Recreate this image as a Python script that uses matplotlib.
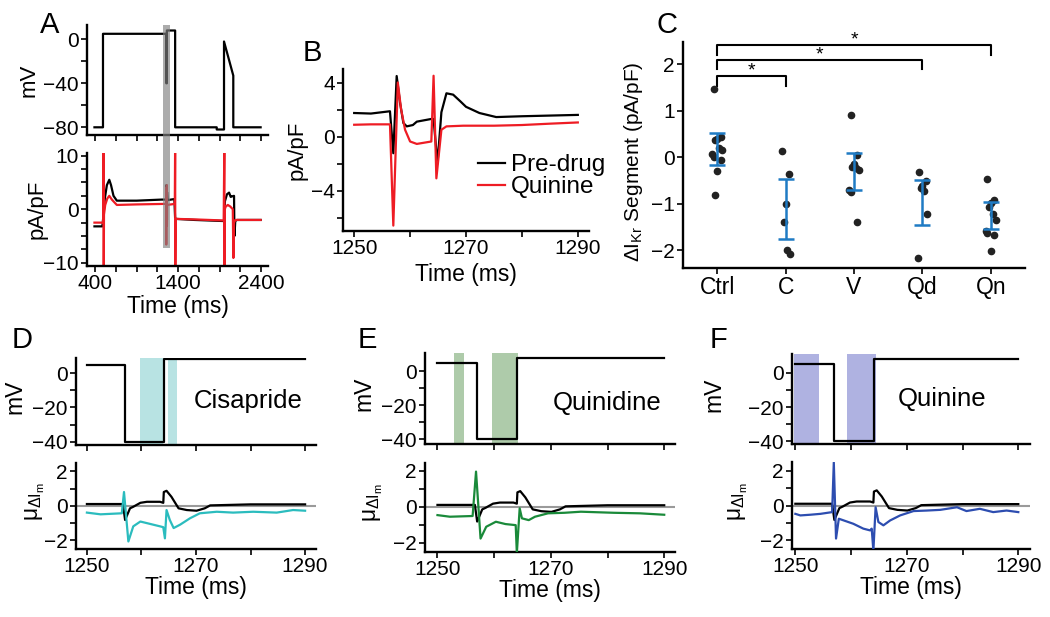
import matplotlib
matplotlib.use("Agg")
import matplotlib.pyplot as plt
import matplotlib.transforms as mtransforms
from matplotlib.patches import Rectangle

plt.rcParams['font.family'] = ['Liberation Sans', 'DejaVu Sans']
plt.rcParams['font.size'] = 15
plt.rcParams['mathtext.fontset'] = 'custom'
plt.rcParams['mathtext.rm'] = 'Liberation Sans'
plt.rcParams['mathtext.it'] = 'Liberation Sans'

# ---- panel A: full protocol ----
a_t_v = [390, 493, 493, 1257, 1257, 1264, 1264, 1364, 1364, 1866, 1866, 1954, 1954, 2066, 2066, 2396]
a_mv = [-80, -80, 5, 5, -40, -40, 8, 8, -80, -80, -82, -82, -2, -33, -80, -80]

a_t_pre = [390, 485, 500, 515, 540, 569, 590, 620, 660, 900, 1200, 1256, 1257, 1257.6, 1259, 1264,
           1264.9, 1266.5, 1272, 1355, 1364, 1370, 1600, 1940, 1955, 1965, 1990, 2015, 2035, 2050,
           2075, 2080, 2090, 2110, 2396]
a_pre = [-3.2, -3.2, -1, 2, 4.5, 5.5, 4.5, 2.5, 1.6, 1.6, 1.8, 1.8, -1.2, 4.5, 0.8, 1.3,
         -2.0, 3.2, 1.7, 1.9, -1.8, -1.8, -2.0, -2.2, -2.2, 1.5, 2.8, 3.1, 2.3, 2.4,
         2.5, -5, -2.2, -2.0, -2.0]

a_t_qn = [390, 495, 500, 502, 505, 520, 545, 569, 600, 660, 900, 1256, 1257, 1257.8, 1259, 1264,
          1264.2, 1264.7, 1266, 1360, 1364, 1366, 1370, 1600, 1950, 1958, 1960, 1963, 1975, 2000,
          2030, 2060, 2067, 2075, 2090, 2396]
a_qn = [-2.5, -2.5, 12, -12, -1, 0.8, 2.0, 2.5, 1.8, 0.8, 0.9, 1.0, -6.6, 4.0, -0.4, -0.4,
        4.5, -3.1, 0.8, 1.0, 12, -12, -1.8, -1.9, -2.1, 12, -12, 0, 0.5, 0.8,
        0.5, 0, -9.1, -2.5, -2.0, -2.0]

# ---- panel B: zoom 1250-1290 ms ----
b_t_pre = [1250, 1253, 1256.4, 1257.0, 1257.6, 1258.2, 1258.8, 1259.4, 1260.5, 1261.2, 1263.8, 1264.2,
           1264.9, 1265.6, 1266.5, 1267.7, 1269, 1270, 1272.4, 1275.4, 1280, 1285, 1290]
b_pre = [1.74, 1.7, 1.87, -1.24, 4.48, 2.5, 1.0, 0.75, 0.85, 1.1, 1.3, 1.3,
         -2.0, 1.8, 3.2, 3.1, 2.6, 2.2, 1.74, 1.44, 1.5, 1.55, 1.6]
b_t_qn = [1250, 1253, 1256.4, 1257.0, 1257.8, 1258.4, 1259.1, 1260, 1261.2, 1263.8, 1264.2, 1264.7,
          1265.6, 1266.5, 1269.5, 1275, 1280, 1285, 1290]
b_qn = [0.87, 0.9, 0.9, -6.6, 4.0, 2.0, 0.5, -0.37, -0.55, -0.37, 4.5, -3.1,
        0.5, 0.75, 0.8, 0.8, 0.85, 0.95, 1.04]

# ---- panel C: segment dIKr ----
c_groups = ['Ctrl', 'C', 'V', 'Qd', 'Qn']
ctrl_pts = [1.46, 0.43, 0.40, 0.38, 0.21, 0.16, 0.08, 0.01, -0.06, -0.29, -0.82]
cis_pts = [0.13, -0.35, -1.0, -1.39, -2.0, -2.07]
ver_pts = [0.92, 0.06, -0.14, -0.21, -0.24, -0.28, -0.71, -0.75, -1.39]
qd_pts = [-0.32, -0.5, -0.62, -0.67, -0.72, -1.21, -2.16]
qn_pts = [-0.46, -0.92, -0.98, -1.07, -1.21, -1.35, -1.58, -1.63, -1.66, -2.02]
err_hi = [0.53, -0.47, 0.09, -0.49, -0.97]
err_lo = [-0.165, -1.76, -0.70, -1.45, -1.55]
sig_pairs = [(0, 1), (0, 3), (0, 4)]
sig_y = [1.74, 2.09, 2.41]

# ---- panels D-F ----
step_t = [1250, 1256.9, 1256.9, 1264.1, 1264.1, 1290]
step_mv = [5, 5, -40, -40, 8, 8]

mu_t_ctrl = [1250, 1256.6, 1257.0, 1257.9, 1258.5, 1259.8, 1261, 1263.4, 1264.0, 1264.1, 1264.6, 1265.5,
             1266.8, 1268.3, 1270.1, 1271.6, 1272.6, 1280, 1290]
mu_ctrl = [0.1, 0.1, -0.83, -0.15, -0.06, 0.17, 0.23, 0.23, 0.17, 0.8, 0.87, 0.52,
           -0.15, -0.25, -0.29, -0.15, 0.02, 0.08, 0.08]

mu_t_cis = [1250, 1252.5, 1256.4, 1256.8, 1257.6, 1258.5, 1259.8, 1261.6, 1263.4, 1264.0, 1264.3, 1264.6,
            1265.2, 1265.9, 1267.1, 1268.9, 1270.7, 1273.8, 1276.8, 1280.5, 1284.8, 1287.8, 1290]
mu_cis = [-0.4, -0.5, -0.44, 0.8, -2.08, -1.2, -0.92, -1.06, -1.2, -1.25, -1.9, -0.25,
          -0.83, -1.3, -1.1, -0.73, -0.44, -0.35, -0.4, -0.35, -0.4, -0.25, -0.29]

mu_t_qd = [1250, 1252.2, 1256.2, 1256.8, 1257.6, 1258.6, 1260.3, 1262, 1263.8, 1264.0, 1264.5, 1264.9,
           1266.1, 1267.2, 1269.5, 1272.4, 1275.3, 1281.1, 1285.7, 1290]
mu_qd = [-0.47, -0.56, -0.52, 1.96, -1.78, -1.12, -0.84, -0.97, -1.03, -2.6, -0.09, -0.65,
         -0.75, -0.56, -0.37, -0.34, -0.28, -0.34, -0.37, -0.45]

mu_t_qn = [1250, 1250.9, 1252.7, 1254.5, 1256.6, 1256.9, 1257.3, 1257.8, 1258.7, 1260.4, 1262.2, 1263.4,
           1263.7, 1264.0, 1264.4, 1264.9, 1265.8, 1267, 1268.8, 1271.2, 1273.6, 1276, 1279, 1280.7,
           1283.1, 1285.5, 1287.9, 1290]
mu_qn = [-0.48, -0.57, -0.53, -0.48, -0.38, 2.48, -1.9, -0.76, -0.86, -1.05, -1.33, -1.43,
         -1.33, -2.6, -0.1, -0.95, -1.14, -0.86, -0.57, -0.32, -0.29, -0.25, -0.1, -0.32,
         -0.19, -0.38, -0.29, -0.38]

cis_win = [(1259.8, 1264.0), (1264.9, 1266.6)]
qd_win = [(1252.9, 1254.6), (1259.6, 1264.2)]
qn_win = [(1249.7, 1254.3), (1259.2, 1264.4)]

W, H = 1050, 617
RED = '#ee1c24'
BLUE_ERR = '#1f7bc4'
XLAB = 16.5


def box(l, t, r, b):
    return [l / W, 1 - b / H, (r - l) / W, (b - t) / H]


def style(ax):
    for s in ['top', 'right']:
        ax.spines[s].set_visible(False)
    for s in ['left', 'bottom']:
        ax.spines[s].set_linewidth(1.7)
    ax.tick_params(which='both', direction='out', width=1.2, length=4, labelsize=15, pad=2)


fig = plt.figure(figsize=(10.5, 6.17), dpi=100)

# A top
axA1 = fig.add_axes(box(87, 25, 268, 135))
axA1.patch.set_visible(False)
style(axA1)
axA1.plot(a_t_v, a_mv, color='black', lw=1.6)
axA1.set_xlim(300, 2485)
axA1.set_ylim(-87, 13)
axA1.set_yticks([0, -40, -80])
axA1.set_yticks([-20, -60], minor=True)
axA1.set_xticks([400, 1400, 2400])
axA1.set_xticks([650, 900, 1150, 1650, 1900, 2150], minor=True)
axA1.set_xticklabels([])
axA1.set_ylabel('mV', fontsize=16)
axA1.yaxis.set_label_coords(-0.26, 0.5)

# A bottom
axA2 = fig.add_axes(box(87, 153, 268, 266))
style(axA2)
axA2.plot(a_t_pre, a_pre, color='black', lw=1.6)
axA2.plot(a_t_qn, a_qn, color=RED, lw=1.6)
axA2.set_xlim(300, 2485)
axA2.set_ylim(-10.6, 10.5)
axA2.set_yticks([10, 0, -10])
axA2.set_yticks([7.5, 5, 2.5, -2.5, -5, -7.5], minor=True)
axA2.set_xticks([400, 1400, 2400])
axA2.set_xticks([650, 900, 1150, 1650, 1900, 2150], minor=True)
axA2.set_xlabel('Time (ms)', fontsize=XLAB, labelpad=1)
axA2.set_ylabel('pA/pF', fontsize=16)
axA2.yaxis.set_label_coords(-0.22, 0.5)
trans = mtransforms.blended_transform_factory(axA2.transData, fig.transFigure)
band = Rectangle((1215, 1 - 248 / H), 90, (248 - 25) / H, transform=trans,
                 color='#808080', alpha=0.65, lw=0, clip_on=False, zorder=5)
axA2.add_artist(band)

# B
axB = fig.add_axes(box(343, 69, 589, 231))
style(axB)
axB.plot(b_t_pre, b_pre, color='black', lw=1.6, label='Pre-drug')
axB.plot(b_t_qn, b_qn, color=RED, lw=1.6, label='Quinine')
axB.set_xlim(1248, 1292)
axB.set_ylim(-7.0, 5.0)
axB.set_yticks([4, 0, -4])
axB.set_yticks([2, -2, -6], minor=True)
axB.set_xticks([1250, 1270, 1290])
axB.set_xticks([1260, 1280], minor=True)
axB.set_xlabel('Time (ms)', fontsize=XLAB, labelpad=3)
axB.set_ylabel('pA/pF', fontsize=16)
axB.yaxis.set_label_coords(-0.145, 0.5)
axB.legend(loc='upper left', bbox_to_anchor=(0.5, 0.55), frameon=False, fontsize=17.5,
           handlelength=1.1, handletextpad=0.25, labelspacing=0.0, borderpad=0)

# C
axC = fig.add_axes(box(683, 42, 1025, 268))
style(axC)
groups_pts = [ctrl_pts, cis_pts, ver_pts, qd_pts, qn_pts]
jit = [-0.05, 0.05, 0.0, -0.025, 0.025, 0.07, -0.07]
for i, pts in enumerate(groups_pts):
    xs = [i + jit[k % len(jit)] for k in range(len(pts))]
    axC.plot(xs, pts, 'o', color='#222222', ms=4.5, zorder=3)
    mid = (err_hi[i] + err_lo[i]) / 2
    axC.errorbar(i, mid, yerr=[[mid - err_lo[i]], [err_hi[i] - mid]], color=BLUE_ERR,
                 lw=1.8, capsize=6, capthick=1.8, fmt='none', zorder=4)
for (i, j), y in zip(sig_pairs, sig_y):
    axC.plot([i, i, j, j], [y - 0.2, y, y, y - 0.2], color='black', lw=1.5)
    axC.text((i + j) / 2, y + 0.11, '*', ha='center', va='center', fontsize=14)
axC.set_xlim(-0.5, 4.5)
axC.set_ylim(-2.38, 2.48)
axC.set_yticks([2, 1, 0, -1, -2])
axC.set_xticks(range(5))
axC.set_xticklabels(c_groups, fontsize=16.5)
axC.set_ylabel(r'$\Delta$I$_{\mathrm{Kr}}$ Segment (pA/pF)', fontsize=15)
axC.yaxis.set_label_coords(-0.11, 0.47)

# D-F
panels = [
    (box(76, 358, 316, 445), box(76, 463, 316, 549), (1248.0, 1292.0), (-41.9, 8.8), (-2.52, 2.49),
     mu_t_cis, mu_cis, '#2bbcbe', '#b8e3e3', cis_win, 'Cisapride', 1279.5, -16, -0.205, -0.12),
    (box(425, 353, 675, 444), box(425, 463, 675, 552), (1247.8, 1291.9), (-42.8, 10.9), (-2.53, 2.44),
     mu_t_qd, mu_qd, '#1a8a3a', '#aecbaa', qd_win, 'Quinidine', 1279.9, -18.5, -0.2, -0.16),
    (box(792, 354, 1030, 444), box(792, 462, 1030, 549), (1249.4, 1292.1), (-41.5, 11), (-2.5, 2.5),
     mu_t_qn, mu_qn, '#2d4db0', '#afb2e1', qn_win, 'Quinine', 1276.3, -15.5, -0.28, -0.175),
]
for (rt, rb, xl, ylt, ylb, tt, mu, col, bcol, wins, name, tx, ty, lxt, lxb) in panels:
    axt = fig.add_axes(rt)
    style(axt)
    for w0, w1 in wins:
        axt.axvspan(w0, w1, color=bcol, lw=0, zorder=0)
    axt.plot(step_t, step_mv, color='black', lw=1.6, zorder=2)
    axt.set_xlim(*xl)
    axt.set_ylim(*ylt)
    axt.set_yticks([0, -20, -40])
    axt.set_yticks([-10, -30], minor=True)
    axt.set_xticks([1250, 1270, 1290])
    axt.set_xticks([1260, 1280], minor=True)
    axt.set_xticklabels([])
    axt.set_ylabel('mV', fontsize=16.5)
    axt.yaxis.set_label_coords(lxt, 0.55)
    axt.text(tx, ty, name, ha='center', va='center', fontsize=18.5)

    axb = fig.add_axes(rb)
    style(axb)
    axb.axhline(0, color='#9a9a9a', lw=1.5, zorder=1)
    axb.plot(mu_t_ctrl, mu_ctrl, color='black', lw=1.6, zorder=2)
    axb.plot(tt, mu, color=col, lw=1.6, zorder=3)
    axb.set_xlim(*xl)
    axb.set_ylim(*ylb)
    axb.set_yticks([2, 0, -2])
    axb.set_yticks([1, -1], minor=True)
    axb.set_xticks([1250, 1270, 1290])
    axb.set_xticks([1260, 1280], minor=True)
    axb.set_xlabel('Time (ms)', fontsize=XLAB, labelpad=0)
    axb.set_ylabel(r'$\mu_{\Delta I_m}$', fontsize=16.5)
    axb.yaxis.set_label_coords(lxb, 0.55)

# panel letters
for lab, x, y in [('A', 40, 33), ('B', 303, 61), ('C', 656, 33), ('D', 12, 348), ('E', 358, 348), ('F', 710, 348)]:
    fig.text(x / W, 1 - y / H, lab, fontsize=21, ha='left', va='baseline')

fig.savefig('out.png', dpi=100)
